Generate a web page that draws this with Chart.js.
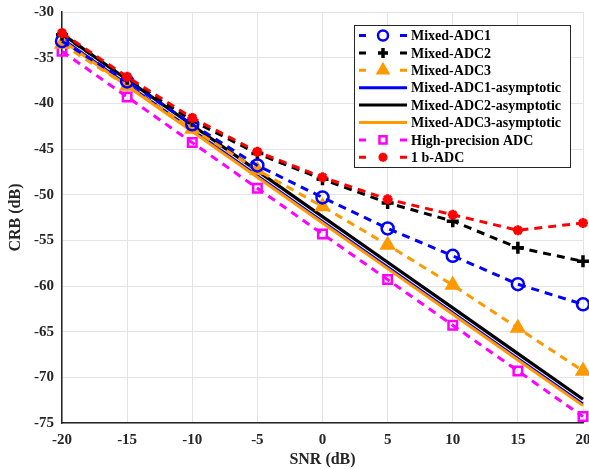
<!DOCTYPE html>
<html>
<head>
<meta charset="utf-8">
<script src="https://cdn.jsdelivr.net/npm/chart.js@4"></script>
<style>
  html,body{margin:0;padding:0;background:#fff;}
  #wrap{width:589px;height:469px;position:relative;}
</style>
</head>
<body>
<div id="wrap"><canvas id="crb-chart" width="589" height="469"></canvas></div>
<script>
/* CRB vs SNR for mixed-ADC schemes */
const snr = [-20, -15, -10, -5, 0, 5, 10, 15, 20];
const xTicks = [-20, -15, -10, -5, 0, 5, 10, 15, 20];
const yTicks = [-30, -35, -40, -45, -50, -55, -60, -65, -70, -75];

const mixed1 = [-33.2, -37.6, -42.3, -46.8, -50.3, -53.7, -56.7, -59.8, -62.0];
const mixed2 = [-32.5, -37.3, -41.9, -45.5, -48.3, -50.9, -52.9, -55.8, -57.3];
const mixed3 = [-33.5, -38.1, -42.8, -47.3, -51.3, -55.5, -59.9, -64.6, -69.3];
const asym1 = [-32.9, -37.9, -42.9, -47.9, -52.9, -57.9, -62.9, -67.9, -72.9];
const asym2 = [-32.4, -37.4, -42.4, -47.4, -52.4, -57.4, -62.4, -67.4, -72.4];
const asym3 = [-33.1, -38.1, -43.1, -48.1, -53.1, -58.1, -63.1, -68.1, -73.1];
const highPrec = [-34.3, -39.3, -44.3, -49.3, -54.3, -59.3, -64.3, -69.3, -74.3];
const oneBit = [-32.3, -37.1, -41.6, -45.3, -48.1, -50.5, -52.2, -53.9, -53.1];

const FONT = '"Liberation Serif", "Times New Roman", serif';
const TXT = '#262626';
const NONE = 'rgba(0,0,0,0)';

function pts(ys){ return snr.map((x,i)=>({x:x,y:ys[i]})); }

const series = [
  {label:'Mixed-ADC1', data:mixed1, color:'#0000ff', dash:[8,6], width:3, point:'circle', radius:6, lr:5, fill:false, pw:2.5},
  {label:'Mixed-ADC2', data:mixed2, color:'#000000', dash:[8,6], width:3, point:'cross', radius:6, lr:5, fill:false, pw:3.5},
  {label:'Mixed-ADC3', data:mixed3, color:'#ff9900', dash:[8,6], width:3, point:'triangle', radius:8, lr:7, fill:true, pw:1.5},
  {label:'Mixed-ADC1-asymptotic', data:asym1, color:'#0000ff', dash:[], width:2.5, point:false},
  {label:'Mixed-ADC2-asymptotic', data:asym2, color:'#000000', dash:[], width:3.2, point:false},
  {label:'Mixed-ADC3-asymptotic', data:asym3, color:'#ff9900', dash:[], width:3, point:false},
  {label:'High-precision ADC', data:highPrec, color:'#ff00ff', dash:[8,6], width:3, point:'rect', radius:6, lr:5, fill:false, pw:2.5},
  {label:'1 b-ADC', data:oneBit, color:'#ff0000', dash:[8,6], width:3, point:'star', radius:5, lr:4.5, fill:false, pw:3}
];

// draw order: asymptotic lines under the marked curves, black above blue/orange
const order = {0:1, 1:1, 2:1, 3:5, 4:3, 5:4, 6:2, 7:0};

const datasets = series.map((s,i)=>({
  label:s.label, data:pts(s.data), borderColor:s.color, borderWidth:s.width, borderDash:s.dash,
  backgroundColor:s.fill ? s.color : NONE, fill:false, tension:0, order:order[i], clip:false,
  pointStyle:s.point || 'circle', pointRadius:s.point ? s.radius : 0,
  pointBorderWidth:s.pw || 1, pointBorderColor:s.color,
  pointBackgroundColor:s.fill ? s.color : NONE
}));

// legend drawn by hand so each row shows dash - marker - dash like the original
const legendBox = {
  id:'legendBox',
  afterDraw(chart){
    const ctx = chart.ctx;
    const x0 = 354, y0 = 25, w = 216, h = 142, row = 17.4;
    ctx.save();
    ctx.fillStyle = '#fff'; ctx.fillRect(x0,y0,w,h);
    ctx.strokeStyle = '#262626'; ctx.lineWidth = 1; ctx.strokeRect(x0+0.5,y0+0.5,w,h);
    ctx.font = 'bold 14px ' + FONT; ctx.textBaseline = 'middle';
    series.forEach((s,i)=>{
      const cy = y0 + 10.5 + i*row;
      ctx.setLineDash([]);
      ctx.strokeStyle = s.color; ctx.lineWidth = 3;
      ctx.beginPath();
      if (s.point){
        ctx.moveTo(359,cy); ctx.lineTo(366,cy); ctx.moveTo(400,cy); ctx.lineTo(407,cy);
      } else {
        ctx.moveTo(359,cy); ctx.lineTo(407,cy);
      }
      ctx.stroke();
      if (s.point){
        ctx.lineWidth = s.pw;
        ctx.fillStyle = s.fill ? s.color : NONE;
        Chart.helpers.drawPoint(ctx, {pointStyle:s.point, radius:s.lr, borderWidth:s.pw, rotation:0}, 383, cy);
      }
      ctx.fillStyle = '#000';
      ctx.fillText(s.label, 411, cy+1);
    });
    ctx.restore();
  }
};

new Chart(document.getElementById('crb-chart'), {
  type:'line',
  data:{datasets:datasets},
  options:{
    responsive:false, animation:false, maintainAspectRatio:false,
    layout:{autoPadding:false, padding:{top:12, right:6, left:6, bottom:0}},
    plugins:{legend:{display:false}, tooltip:{enabled:false}},
    scales:{
      x:{
        type:'linear', min:-20, max:20,
        afterBuildTicks(sc){ sc.ticks = xTicks.map(v=>({value:v})); },
        afterFit(sc){ sc.height = 46; sc.paddingRight = 0; sc.paddingLeft = 0; },
        ticks:{color:TXT, font:{family:FONT, size:15, weight:'bold'}, padding:8, maxRotation:0},
        grid:{color:'#e4e4e4', lineWidth:1, drawTicks:false},
        border:{color:'#262626', width:1.5},
        title:{display:true, text:'SNR (dB)', color:TXT, font:{family:FONT, size:16, weight:'bold'}, padding:{top:0,bottom:0}}
      },
      y:{
        type:'linear', min:-75, max:-30,
        afterBuildTicks(sc){ sc.ticks = yTicks.map(v=>({value:v})); },
        afterFit(sc){ sc.width = 56; sc.paddingTop = 0; sc.paddingBottom = 0; },
        ticks:{color:TXT, font:{family:FONT, size:15, weight:'bold'}, padding:8},
        grid:{color:'#e4e4e4', lineWidth:1, drawTicks:false},
        border:{color:'#262626', width:1.5},
        title:{display:true, text:'CRB (dB)', color:TXT, font:{family:FONT, size:16, weight:'bold'}, padding:{top:0,bottom:0}}
      }
    }
  },
  plugins:[legendBox]
});
</script>
</body>
</html>
